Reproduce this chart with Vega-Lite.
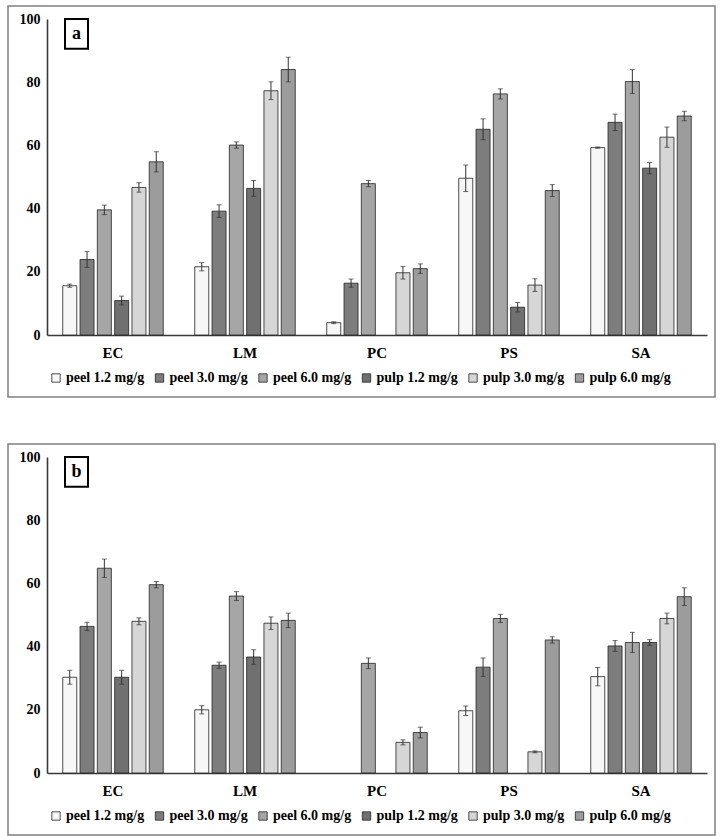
{
  "$schema": "https://vega.github.io/schema/vega-lite/v6.json",
  "padding": {"left": 7, "top": 5, "right": 0, "bottom": 0},
  "background": "white",
  "spacing": 45,
  "resolve": {"scale": {"fill": "independent", "x": "independent", "y": "independent", "xOffset": "independent"}, "legend": {"fill": "independent"}},
  "config": {
    "view": {"stroke": "#808080", "strokeWidth": 1.5},
    "font": "Liberation Serif"
  },
  "datasets": {
    "a": [
      {"c": "EC", "g": "peel 1.2 mg/g", "v": 15.6, "e": 0.5},
      {"c": "EC", "g": "peel 3.0 mg/g", "v": 23.9, "e": 2.5},
      {"c": "EC", "g": "peel 6.0 mg/g", "v": 39.6, "e": 1.5},
      {"c": "EC", "g": "pulp 1.2 mg/g", "v": 10.9, "e": 1.4},
      {"c": "EC", "g": "pulp 3.0 mg/g", "v": 46.7, "e": 1.5},
      {"c": "EC", "g": "pulp 6.0 mg/g", "v": 54.8, "e": 3.2},
      {"c": "LM", "g": "peel 1.2 mg/g", "v": 21.6, "e": 1.3},
      {"c": "LM", "g": "peel 3.0 mg/g", "v": 39.2, "e": 2.0},
      {"c": "LM", "g": "peel 6.0 mg/g", "v": 60.1, "e": 1.0},
      {"c": "LM", "g": "pulp 1.2 mg/g", "v": 46.4, "e": 2.5},
      {"c": "LM", "g": "pulp 3.0 mg/g", "v": 77.3, "e": 2.8},
      {"c": "LM", "g": "pulp 6.0 mg/g", "v": 84.0, "e": 3.9},
      {"c": "PC", "g": "peel 1.2 mg/g", "v": 3.9, "e": 0.3},
      {"c": "PC", "g": "peel 3.0 mg/g", "v": 16.4, "e": 1.3},
      {"c": "PC", "g": "peel 6.0 mg/g", "v": 47.9, "e": 1.0},
      {"c": "PC", "g": "pulp 1.2 mg/g", "v": 0, "e": 0},
      {"c": "PC", "g": "pulp 3.0 mg/g", "v": 19.7, "e": 2.0},
      {"c": "PC", "g": "pulp 6.0 mg/g", "v": 21.0, "e": 1.5},
      {"c": "PS", "g": "peel 1.2 mg/g", "v": 49.6, "e": 4.2},
      {"c": "PS", "g": "peel 3.0 mg/g", "v": 65.1, "e": 3.3},
      {"c": "PS", "g": "peel 6.0 mg/g", "v": 76.3, "e": 1.6},
      {"c": "PS", "g": "pulp 1.2 mg/g", "v": 8.8, "e": 1.5},
      {"c": "PS", "g": "pulp 3.0 mg/g", "v": 15.8, "e": 2.0},
      {"c": "PS", "g": "pulp 6.0 mg/g", "v": 45.7, "e": 1.9},
      {"c": "SA", "g": "peel 1.2 mg/g", "v": 59.3, "e": 0.2},
      {"c": "SA", "g": "peel 3.0 mg/g", "v": 67.3, "e": 2.6},
      {"c": "SA", "g": "peel 6.0 mg/g", "v": 80.2, "e": 3.8},
      {"c": "SA", "g": "pulp 1.2 mg/g", "v": 52.8, "e": 1.8},
      {"c": "SA", "g": "pulp 3.0 mg/g", "v": 62.6, "e": 3.2},
      {"c": "SA", "g": "pulp 6.0 mg/g", "v": 69.3, "e": 1.5}
    ],
    "b": [
      {"c": "EC", "g": "peel 1.2 mg/g", "v": 30.3, "e": 2.2},
      {"c": "EC", "g": "peel 3.0 mg/g", "v": 46.4, "e": 1.3},
      {"c": "EC", "g": "peel 6.0 mg/g", "v": 64.8, "e": 2.9},
      {"c": "EC", "g": "pulp 1.2 mg/g", "v": 30.3, "e": 2.2},
      {"c": "EC", "g": "pulp 3.0 mg/g", "v": 48.0, "e": 1.1},
      {"c": "EC", "g": "pulp 6.0 mg/g", "v": 59.6, "e": 1.0},
      {"c": "LM", "g": "peel 1.2 mg/g", "v": 20.0, "e": 1.3},
      {"c": "LM", "g": "peel 3.0 mg/g", "v": 34.1, "e": 1.0},
      {"c": "LM", "g": "peel 6.0 mg/g", "v": 56.0, "e": 1.4},
      {"c": "LM", "g": "pulp 1.2 mg/g", "v": 36.7, "e": 2.3},
      {"c": "LM", "g": "pulp 3.0 mg/g", "v": 47.4, "e": 2.0},
      {"c": "LM", "g": "pulp 6.0 mg/g", "v": 48.3, "e": 2.3},
      {"c": "PC", "g": "peel 1.2 mg/g", "v": 0, "e": 0},
      {"c": "PC", "g": "peel 3.0 mg/g", "v": 0, "e": 0},
      {"c": "PC", "g": "peel 6.0 mg/g", "v": 34.7, "e": 1.7},
      {"c": "PC", "g": "pulp 1.2 mg/g", "v": 0, "e": 0},
      {"c": "PC", "g": "pulp 3.0 mg/g", "v": 9.7, "e": 0.8},
      {"c": "PC", "g": "pulp 6.0 mg/g", "v": 12.8, "e": 1.7},
      {"c": "PS", "g": "peel 1.2 mg/g", "v": 19.7, "e": 1.5},
      {"c": "PS", "g": "peel 3.0 mg/g", "v": 33.5, "e": 2.9},
      {"c": "PS", "g": "peel 6.0 mg/g", "v": 48.9, "e": 1.3},
      {"c": "PS", "g": "pulp 1.2 mg/g", "v": 0, "e": 0},
      {"c": "PS", "g": "pulp 3.0 mg/g", "v": 6.7, "e": 0.3},
      {"c": "PS", "g": "pulp 6.0 mg/g", "v": 42.1, "e": 1.0},
      {"c": "SA", "g": "peel 1.2 mg/g", "v": 30.5, "e": 2.9},
      {"c": "SA", "g": "peel 3.0 mg/g", "v": 40.2, "e": 1.7},
      {"c": "SA", "g": "peel 6.0 mg/g", "v": 41.3, "e": 3.2},
      {"c": "SA", "g": "pulp 1.2 mg/g", "v": 41.3, "e": 0.9},
      {"c": "SA", "g": "pulp 3.0 mg/g", "v": 48.9, "e": 1.7},
      {"c": "SA", "g": "pulp 6.0 mg/g", "v": 55.8, "e": 2.8}
    ],
    "lab": [{"t": "a"}],
    "labb": [{"t": "b"}]
  },
  "vconcat": [
    {
      "width": 707,
      "height": 391,
      "data": {"name": "a"},
      "encoding": {
        "x": {"field": "c", "type": "nominal", "sort": ["EC", "LM", "PC", "PS", "SA"],
          "scale": {"paddingInner": 0, "paddingOuter": 0, "range": [39, 699]},
          "axis": {"orient": "bottom", "offset": -62, "domain": true, "domainColor": "#3a3a3a", "domainWidth": 1.6, "ticks": false, "labelPadding": 10, "labelFont": "Liberation Serif", "labelFontWeight": "bold", "labelFontSize": 15, "labelColor": "black", "title": null, "labelAngle": 0}},
        "y": {"type": "quantitative",
          "scale": {"domain": [0, 100], "nice": false, "zero": false, "range": [329, 13]},
          "axis": {"orient": "left", "offset": -39, "domain": true, "domainColor": "#3a3a3a", "domainWidth": 1.6, "ticks": false, "grid": false, "values": [0, 20, 40, 60, 80, 100], "labelPadding": 7, "labelFont": "Liberation Serif", "labelFontWeight": "bold", "labelFontSize": 14, "labelColor": "black", "title": null}}
      },
      "layer": [
        {
          "mark": {"type": "bar", "stroke": "#222222", "strokeWidth": 0.8},
          "encoding": {
            "y": {"field": "v", "type": "quantitative"},
            "strokeOpacity": {"condition": {"test": "datum.v === 0", "value": 0}, "value": 1},
            "xOffset": {"field": "g", "type": "nominal", "scale": {"paddingInner": 0.19, "paddingOuter": 0.91}},
            "fill": {"field": "g", "type": "nominal",
              "scale": {"domain": ["peel 1.2 mg/g", "peel 3.0 mg/g", "peel 6.0 mg/g", "pulp 1.2 mg/g", "pulp 3.0 mg/g", "pulp 6.0 mg/g"],
                "range": ["#f7f7f7", "#7d7d7d", "#a6a6a6", "#707070", "#d6d6d6", "#9c9c9c"]},
              "legend": {"orient": "none", "legendX": 41, "legendY": 365, "direction": "horizontal", "columns": 6, "title": null, "symbolType": "square", "symbolSize": 70, "symbolStrokeColor": "#222222", "symbolStrokeWidth": 0.8, "labelFont": "Liberation Serif", "labelFontWeight": "bold", "labelFontSize": 14, "labelColor": "black", "labelOffset": 3, "columnPadding": 7.5, "labelLimit": 200}}
          }
        },
        {
          "transform": [{"filter": "datum.e > 0"}],
          "mark": {"type": "errorbar", "ticks": {"size": 5}, "color": "#333333", "thickness": 1},
          "encoding": {
            "y": {"field": "v", "type": "quantitative"},
            "yError": {"field": "e"},
            "xOffset": {"field": "g", "type": "nominal"}
          }
        },
        {
          "data": {"name": "lab"},
          "mark": {"type": "point", "shape": "M-1,-1.3H1V1.3H-1Z", "size": 529, "filled": true, "fill": "white", "stroke": "black", "strokeWidth": 2, "opacity": 1, "xOffset": 29.5},
          "encoding": {"x": {"datum": "EC", "bandPosition": 0}, "y": {"datum": 95.3}}
        },
        {
          "data": {"name": "lab"},
          "mark": {"type": "text", "font": "Liberation Serif", "fontWeight": "bold", "fontSize": 18, "color": "black", "dx": 29.5, "baseline": "middle", "align": "center"},
          "encoding": {"x": {"datum": "EC", "bandPosition": 0}, "y": {"datum": 95.3}, "text": {"field": "t"}}
        }
      ]
    },
    {
      "width": 707,
      "height": 391,
      "data": {"name": "b"},
      "encoding": {
        "x": {"field": "c", "type": "nominal", "sort": ["EC", "LM", "PC", "PS", "SA"],
          "scale": {"paddingInner": 0, "paddingOuter": 0, "range": [39, 699]},
          "axis": {"orient": "bottom", "offset": -62, "domain": true, "domainColor": "#3a3a3a", "domainWidth": 1.6, "ticks": false, "labelPadding": 10, "labelFont": "Liberation Serif", "labelFontWeight": "bold", "labelFontSize": 15, "labelColor": "black", "title": null, "labelAngle": 0}},
        "y": {"type": "quantitative",
          "scale": {"domain": [0, 100], "nice": false, "zero": false, "range": [329, 13]},
          "axis": {"orient": "left", "offset": -39, "domain": true, "domainColor": "#3a3a3a", "domainWidth": 1.6, "ticks": false, "grid": false, "values": [0, 20, 40, 60, 80, 100], "labelPadding": 7, "labelFont": "Liberation Serif", "labelFontWeight": "bold", "labelFontSize": 14, "labelColor": "black", "title": null}}
      },
      "layer": [
        {
          "mark": {"type": "bar", "stroke": "#222222", "strokeWidth": 0.8},
          "encoding": {
            "y": {"field": "v", "type": "quantitative"},
            "strokeOpacity": {"condition": {"test": "datum.v === 0", "value": 0}, "value": 1},
            "xOffset": {"field": "g", "type": "nominal", "scale": {"paddingInner": 0.19, "paddingOuter": 0.91}},
            "fill": {"field": "g", "type": "nominal",
              "scale": {"domain": ["peel 1.2 mg/g", "peel 3.0 mg/g", "peel 6.0 mg/g", "pulp 1.2 mg/g", "pulp 3.0 mg/g", "pulp 6.0 mg/g"],
                "range": ["#f7f7f7", "#7d7d7d", "#a6a6a6", "#707070", "#d6d6d6", "#9c9c9c"]},
              "legend": {"orient": "none", "legendX": 41, "legendY": 365, "direction": "horizontal", "columns": 6, "title": null, "symbolType": "square", "symbolSize": 70, "symbolStrokeColor": "#222222", "symbolStrokeWidth": 0.8, "labelFont": "Liberation Serif", "labelFontWeight": "bold", "labelFontSize": 14, "labelColor": "black", "labelOffset": 3, "columnPadding": 7.5, "labelLimit": 200}}
          }
        },
        {
          "transform": [{"filter": "datum.e > 0"}],
          "mark": {"type": "errorbar", "ticks": {"size": 5}, "color": "#333333", "thickness": 1},
          "encoding": {
            "y": {"field": "v", "type": "quantitative"},
            "yError": {"field": "e"},
            "xOffset": {"field": "g", "type": "nominal"}
          }
        },
        {
          "data": {"name": "labb"},
          "mark": {"type": "point", "shape": "M-1,-1.3H1V1.3H-1Z", "size": 529, "filled": true, "fill": "white", "stroke": "black", "strokeWidth": 2, "opacity": 1, "xOffset": 29.5},
          "encoding": {"x": {"datum": "EC", "bandPosition": 0}, "y": {"datum": 95.3}}
        },
        {
          "data": {"name": "labb"},
          "mark": {"type": "text", "font": "Liberation Serif", "fontWeight": "bold", "fontSize": 18, "color": "black", "dx": 29.5, "baseline": "middle", "align": "center"},
          "encoding": {"x": {"datum": "EC", "bandPosition": 0}, "y": {"datum": 95.3}, "text": {"field": "t"}}
        }
      ]
    }
  ]
}
